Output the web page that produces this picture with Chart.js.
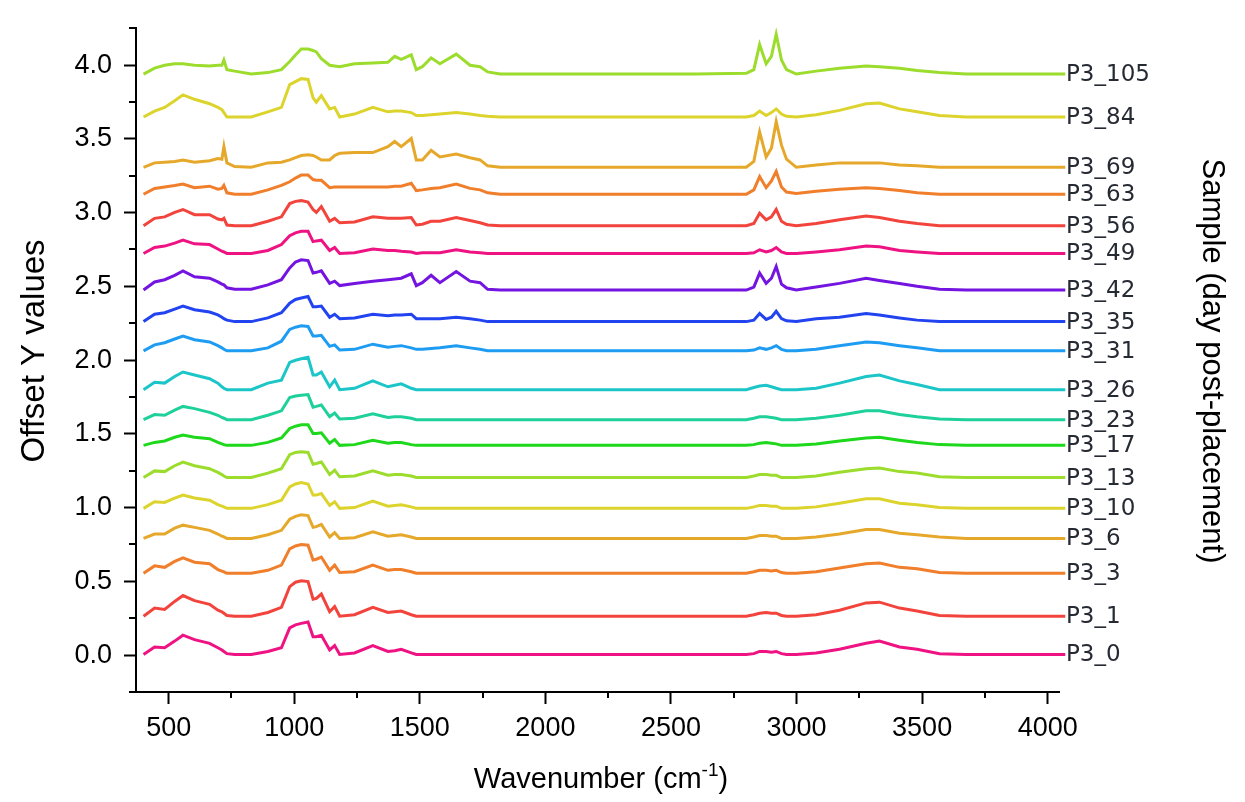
<!DOCTYPE html>
<html>
<head>
<meta charset="utf-8">
<script src="https://cdn.jsdelivr.net/npm/chart.js@4.4.0/dist/chart.umd.min.js"></script>
<style>
  html, body { margin: 0; padding: 0; background: #fff; }
  #wrap { width: 1245px; height: 802px; position: relative; }
</style>
</head>
<body>
<div id="wrap"><canvas id="chart"></canvas></div>
<script>
// wavenumber grid shared by all spectra (cm-1)
const wavenumbers = [
  400, 444, 484, 524, 557, 603, 663, 696, 712, 720, 732, 763, 829, 895, 949, 982, 1005, 1028, 1055, 1075,
  1088, 1108, 1141, 1161, 1181, 1240, 1313, 1373, 1400, 1426, 1466, 1486, 1510, 1545, 1580, 1645, 1700, 1740, 1770, 1820,
  2600, 2800, 2830, 2853, 2879, 2900, 2919, 2940, 2960, 2999, 3078, 3171, 3277, 3330, 3410, 3480, 3569, 3675, 4070
];

// sample names, bottom to top
const samples = ['P3_0', 'P3_1', 'P3_3', 'P3_6', 'P3_10', 'P3_13', 'P3_17', 'P3_23', 'P3_26',
                 'P3_31', 'P3_35', 'P3_42', 'P3_49', 'P3_56', 'P3_63', 'P3_69', 'P3_84', 'P3_105'];

// vertical offset of each trace
const offsets = [0.005, 0.264, 0.555, 0.791, 0.995, 1.204, 1.422, 1.596, 1.799,
                 2.063, 2.261, 2.475, 2.723, 2.911, 3.124, 3.307, 3.648, 3.939];

const colors = ['#ee1282', '#f2443c', '#f07e2a', '#e6a82a', '#dcd42c', '#9cdc2c', '#1ed81c', '#1ed09a', '#1cc6c8',
                '#1e9cf2', '#2244f0', '#7414e0', '#ee1282', '#f2443c', '#f07e2a', '#e6a82a', '#dcd42c', '#9cdc2c'];

// absorbance above each trace's own baseline
const p3_0 = [0, 0.05, 0.045, 0.09, 0.13, 0.1, 0.075, 0.045, 0.03, 0.02, 0.005, 0, 0, 0.02, 0.045, 0.18, 0.2, 0.21, 0.22, 0.12,
  0.12, 0.13, 0.03, 0.06, 0, 0.01, 0.06, 0.02, 0.025, 0.035, 0.01, 0, 0, 0, 0, 0, 0, 0, 0, 0,
  0, 0, 0.005, 0.02, 0.02, 0.015, 0.02, 0.005, 0, 0, 0.01, 0.035, 0.075, 0.09, 0.05, 0.035, 0.005, 0, 0];
const p3_1 = [0, 0.055, 0.045, 0.1, 0.14, 0.105, 0.08, 0.04, 0.03, 0.02, 0.005, 0, 0, 0.025, 0.06, 0.2, 0.23, 0.24, 0.235, 0.115,
  0.12, 0.15, 0.03, 0.065, 0, 0.01, 0.06, 0.025, 0.03, 0.035, 0.01, 0, 0, 0, 0, 0, 0, 0, 0, 0,
  0, 0, 0.01, 0.02, 0.025, 0.02, 0.02, 0.005, 0, 0, 0.01, 0.04, 0.09, 0.095, 0.055, 0.035, 0.005, 0, 0];
const p3_3 = [0, 0.05, 0.04, 0.08, 0.105, 0.075, 0.065, 0.025, 0.015, 0.01, 0, 0, 0, 0.02, 0.055, 0.165, 0.185, 0.195, 0.19, 0.09,
  0.095, 0.11, 0.02, 0.055, 0.005, 0.01, 0.055, 0.02, 0.025, 0.025, 0.01, 0, 0, 0, 0, 0, 0, 0, 0, 0,
  0, 0, 0.01, 0.02, 0.02, 0.015, 0.02, 0.005, 0, 0, 0.01, 0.035, 0.065, 0.07, 0.04, 0.03, 0.005, 0, 0];
const p3_6 = [0, 0.03, 0.03, 0.07, 0.09, 0.075, 0.055, 0.03, 0.015, 0.01, 0, 0, 0, 0.025, 0.055, 0.13, 0.15, 0.16, 0.155, 0.075,
  0.08, 0.095, 0.01, 0.04, 0, 0.005, 0.045, 0.015, 0.02, 0.025, 0.01, 0, 0, 0, 0, 0, 0, 0, 0, 0,
  0, 0, 0.01, 0.02, 0.02, 0.015, 0.015, 0, 0, 0, 0.01, 0.03, 0.06, 0.06, 0.035, 0.025, 0.01, 0, 0];
const p3_10 = [0, 0.045, 0.04, 0.07, 0.09, 0.07, 0.055, 0.025, 0.015, 0.01, 0, 0, 0, 0.025, 0.055, 0.145, 0.165, 0.175, 0.165, 0.09,
  0.09, 0.1, 0.02, 0.045, 0, 0.005, 0.05, 0.015, 0.02, 0.025, 0.01, 0, 0, 0, 0, 0, 0, 0, 0, 0,
  0, 0, 0.01, 0.02, 0.02, 0.015, 0.015, 0, 0, 0, 0.01, 0.035, 0.065, 0.065, 0.035, 0.025, 0.005, 0, 0];
const p3_13 = [0, 0.045, 0.04, 0.08, 0.105, 0.08, 0.06, 0.035, 0.02, 0.01, 0, 0, 0, 0.03, 0.06, 0.155, 0.17, 0.175, 0.17, 0.09,
  0.095, 0.105, 0.02, 0.05, 0.005, 0.01, 0.045, 0.015, 0.02, 0.02, 0.01, 0, 0, 0, 0, 0, 0, 0, 0, 0,
  0, 0, 0.01, 0.02, 0.02, 0.015, 0.015, 0, 0, 0, 0.01, 0.035, 0.06, 0.065, 0.04, 0.03, 0.005, 0, 0];
const p3_17 = [0, 0.02, 0.03, 0.055, 0.07, 0.055, 0.045, 0.02, 0.01, 0.005, 0, 0, 0, 0.02, 0.05, 0.115, 0.13, 0.14, 0.14, 0.08,
  0.08, 0.085, 0.015, 0.04, 0, 0.005, 0.035, 0.015, 0.02, 0.02, 0.005, 0, 0, 0, 0, 0, 0, 0, 0, 0,
  0, 0, 0.005, 0.015, 0.02, 0.015, 0.01, 0, 0, 0, 0.01, 0.03, 0.05, 0.055, 0.035, 0.02, 0.005, 0, 0];
const p3_23 = [0, 0.035, 0.03, 0.065, 0.09, 0.075, 0.05, 0.03, 0.015, 0.01, 0, 0, 0, 0.03, 0.06, 0.15, 0.16, 0.165, 0.17, 0.085,
  0.09, 0.1, 0.02, 0.045, 0.005, 0.01, 0.04, 0.015, 0.02, 0.02, 0.01, 0, 0, 0, 0, 0, 0, 0, 0, 0,
  0, 0, 0.01, 0.02, 0.02, 0.015, 0.01, 0, 0, 0, 0.01, 0.03, 0.06, 0.06, 0.035, 0.02, 0.005, 0, 0];
const p3_26 = [0, 0.05, 0.045, 0.09, 0.12, 0.1, 0.075, 0.045, 0.02, 0.01, 0, 0, 0, 0.045, 0.065, 0.185, 0.2, 0.21, 0.22, 0.1,
  0.1, 0.12, 0.02, 0.065, 0, 0.01, 0.06, 0.02, 0.03, 0.04, 0.01, 0, 0, 0, 0, 0, 0, 0, 0, 0,
  0, 0, 0.015, 0.025, 0.03, 0.02, 0.01, 0, 0, 0, 0.01, 0.045, 0.09, 0.1, 0.06, 0.035, 0, 0, 0];
const p3_31 = [0, 0.04, 0.055, 0.08, 0.1, 0.075, 0.06, 0.035, 0.02, 0.01, 0, 0, 0, 0.02, 0.065, 0.145, 0.16, 0.17, 0.165, 0.1,
  0.1, 0.105, 0.03, 0.04, 0.005, 0.01, 0.045, 0.025, 0.03, 0.035, 0.02, 0.01, 0.01, 0.015, 0.02, 0.035, 0.02, 0.01, 0, 0,
  0, 0, 0.005, 0.02, 0.01, 0.02, 0.035, 0.01, 0, 0, 0.01, 0.035, 0.06, 0.055, 0.035, 0.02, 0, 0, 0];
const p3_35 = [0, 0.05, 0.06, 0.085, 0.105, 0.08, 0.065, 0.045, 0.03, 0.02, 0.01, 0, 0, 0.025, 0.06, 0.125, 0.15, 0.16, 0.17, 0.1,
  0.1, 0.105, 0.03, 0.05, 0.02, 0.025, 0.05, 0.04, 0.045, 0.045, 0.05, 0.02, 0.02, 0.02, 0.02, 0.03, 0.02, 0.01, 0, 0,
  0, 0, 0.01, 0.055, 0.015, 0.03, 0.07, 0.02, 0.005, 0, 0.02, 0.03, 0.055, 0.045, 0.025, 0.01, 0, 0, 0];
const p3_42 = [0, 0.055, 0.07, 0.1, 0.13, 0.09, 0.08, 0.055, 0.04, 0.035, 0.015, 0.005, 0.005, 0.035, 0.07, 0.15, 0.19, 0.205, 0.2, 0.115,
  0.12, 0.13, 0.045, 0.06, 0.03, 0.045, 0.06, 0.07, 0.075, 0.08, 0.11, 0.03, 0.05, 0.1, 0.05, 0.125, 0.06, 0.05, 0.005, 0,
  0, 0, 0.02, 0.115, 0.045, 0.08, 0.16, 0.04, 0.015, 0, 0.02, 0.045, 0.08, 0.065, 0.045, 0.025, 0.005, 0, 0];
const p3_49 = [0, 0.04, 0.05, 0.07, 0.09, 0.065, 0.06, 0.03, 0.015, 0.01, 0, 0, 0, 0.02, 0.06, 0.12, 0.14, 0.15, 0.15, 0.08,
  0.085, 0.09, 0.02, 0.04, 0, 0.005, 0.03, 0.02, 0.02, 0.015, 0.01, 0, 0.005, 0.005, 0.005, 0.025, 0.01, 0.005, 0, 0,
  0, 0, 0.005, 0.025, 0.01, 0.02, 0.04, 0.01, 0, 0, 0.01, 0.025, 0.05, 0.045, 0.02, 0.01, 0, 0, 0];
const p3_56 = [0, 0.05, 0.06, 0.09, 0.11, 0.075, 0.075, 0.045, 0.04, 0.05, 0.005, 0, 0, 0.03, 0.06, 0.15, 0.165, 0.17, 0.16, 0.11,
  0.09, 0.13, 0.03, 0.05, 0.02, 0.025, 0.06, 0.05, 0.05, 0.05, 0.055, 0.005, 0.01, 0.03, 0.03, 0.055, 0.035, 0.02, 0.005, 0,
  0, 0, 0.015, 0.085, 0.04, 0.06, 0.11, 0.03, 0.01, 0, 0.015, 0.04, 0.065, 0.055, 0.03, 0.015, 0, 0, 0];
const p3_63 = [0, 0.04, 0.05, 0.06, 0.07, 0.045, 0.055, 0.035, 0.04, 0.06, 0.01, 0, 0, 0.03, 0.06, 0.085, 0.11, 0.13, 0.13, 0.1,
  0.095, 0.095, 0.045, 0.05, 0.05, 0.05, 0.05, 0.05, 0.055, 0.055, 0.075, 0.025, 0.03, 0.04, 0.045, 0.07, 0.04, 0.03, 0.01, 0,
  0, 0, 0.03, 0.12, 0.045, 0.09, 0.155, 0.05, 0.015, 0.005, 0.02, 0.035, 0.045, 0.04, 0.025, 0.01, 0, 0, 0];
const p3_69 = [0, 0.03, 0.035, 0.04, 0.05, 0.035, 0.045, 0.06, 0.055, 0.14, 0.03, 0.005, 0, 0.03, 0.035, 0.05, 0.065, 0.08, 0.085, 0.08,
  0.07, 0.05, 0.05, 0.08, 0.095, 0.1, 0.1, 0.14, 0.175, 0.14, 0.195, 0.05, 0.05, 0.115, 0.07, 0.09, 0.065, 0.05, 0.01, 0,
  0, 0, 0.04, 0.24, 0.07, 0.13, 0.31, 0.15, 0.055, 0, 0.015, 0.03, 0.03, 0.03, 0.015, 0.01, 0, 0, 0];
const p3_84 = [0, 0.04, 0.065, 0.11, 0.15, 0.12, 0.09, 0.065, 0.05, 0.03, 0, 0, 0, 0.035, 0.065, 0.22, 0.24, 0.26, 0.255, 0.13,
  0.1, 0.145, 0.055, 0.065, 0, 0.02, 0.065, 0.035, 0.04, 0.04, 0.03, 0.01, 0.01, 0.015, 0.02, 0.03, 0.02, 0.01, 0.005, 0,
  0, 0, 0.01, 0.04, 0.01, 0.03, 0.055, 0.02, 0.005, 0, 0.015, 0.045, 0.09, 0.095, 0.055, 0.035, 0.01, 0, 0];
const p3_105 = [0, 0.04, 0.06, 0.07, 0.07, 0.06, 0.055, 0.06, 0.06, 0.095, 0.03, 0.02, 0, 0.01, 0.03, 0.085, 0.13, 0.17, 0.17, 0.16,
  0.15, 0.105, 0.06, 0.055, 0.05, 0.07, 0.075, 0.08, 0.12, 0.1, 0.13, 0.03, 0.05, 0.11, 0.07, 0.135, 0.06, 0.05, 0.015, 0,
  0, 0.005, 0.03, 0.2, 0.07, 0.12, 0.27, 0.095, 0.03, 0, 0.02, 0.04, 0.055, 0.05, 0.04, 0.025, 0.01, 0, 0];

const spectra = [p3_0, p3_1, p3_3, p3_6, p3_10, p3_13, p3_17, p3_23, p3_26,
                 p3_31, p3_35, p3_42, p3_49, p3_56, p3_63, p3_69, p3_84, p3_105];

// tick values
const xMajor = [500, 1000, 1500, 2000, 2500, 3000, 3500, 4000];
const xMinor = [750, 1250, 1750, 2250, 2750, 3250, 3750];
const yMajor = [0, 0.5, 1.0, 1.5, 2.0, 2.5, 3.0, 3.5, 4.0];
const yMinor = [-0.25, 0.25, 0.75, 1.25, 1.75, 2.25, 2.75, 3.25, 3.75, 4.25];

const tickFont = { family: '"Liberation Sans", Arial, sans-serif', size: 27 };

const datasets = samples.map((name, i) => ({
    label: name,
    data: wavenumbers.map((w, j) => ({ x: w, y: offsets[i] + spectra[i][j] })),
    borderColor: colors[i],
    borderWidth: 3,
    pointRadius: 0,
    tension: 0,
    clip: false
}));

// extra drawing: minor ticks, sample names, axis titles
const decorations = {
    id: 'decorations',
    afterDraw(chart) {
        const ctx = chart.ctx;
        const x = chart.scales.x, y = chart.scales.y;
        ctx.save();
        ctx.strokeStyle = '#000';
        ctx.lineWidth = 2;
        ctx.beginPath();
        xMinor.forEach(v => {
            const px = Math.round(x.getPixelForValue(v));
            ctx.moveTo(px, y.bottom);
            ctx.lineTo(px, y.bottom + 6);
        });
        yMinor.forEach(v => {
            const py = Math.round(y.getPixelForValue(v));
            ctx.moveTo(x.left, py);
            ctx.lineTo(x.left - 7, py);
        });
        ctx.stroke();

        // sample labels at the end of each trace
        ctx.fillStyle = '#262a33';
        ctx.font = '23px "DejaVu Sans", sans-serif';
        ctx.textAlign = 'left';
        ctx.textBaseline = 'alphabetic';
        samples.forEach((name, i) => {
            const py = y.getPixelForValue(offsets[i]);
            ctx.fillText(name, x.right + 7, py + 7);
        });

        // axis titles
        ctx.fillStyle = '#000';
        ctx.font = '33px "Liberation Sans", Arial, sans-serif';
        ctx.textAlign = 'center';
        ctx.save();
        ctx.translate(44, 351);
        ctx.rotate(-Math.PI / 2);
        ctx.fillText('Offset Y values', 0, 0);
        ctx.restore();

        ctx.save();
        ctx.font = '31px "Liberation Sans", Arial, sans-serif';
        ctx.translate(1203, 361);
        ctx.rotate(Math.PI / 2);
        ctx.fillText('Sample (day post-placement)', 0, 0);
        ctx.restore();

        // x title with superscript
        const big = '29px "Liberation Sans", Arial, sans-serif';
        const small = '19px "Liberation Sans", Arial, sans-serif';
        ctx.textAlign = 'left';
        ctx.font = big;
        const t1 = 'Wavenumber (cm', t3 = ')';
        const w1 = ctx.measureText(t1).width, w3 = ctx.measureText(t3).width;
        ctx.font = small;
        const w2 = ctx.measureText('-1').width;
        let cx = 601 - (w1 + w2 + w3) / 2;
        const base = 788;
        ctx.font = big;
        ctx.fillText(t1, cx, base);
        ctx.font = small;
        ctx.fillText('-1', cx + w1, base - 12);
        ctx.font = big;
        ctx.fillText(t3, cx + w1 + w2, base);
        ctx.restore();
    }
};

new Chart(document.getElementById('chart'), {
    type: 'line',
    data: { datasets: datasets },
    options: {
        responsive: true,
        maintainAspectRatio: false,
        animation: false,
        devicePixelRatio: 1,
        layout: { padding: { top: 11, right: 186, bottom: 0, left: 0 } },
        plugins: { legend: { display: false }, tooltip: { enabled: false } },
        scales: {
            x: {
                type: 'linear',
                min: 370,
                max: 4045,
                afterFit: s => { s.height = 110; },
                afterBuildTicks: s => { s.ticks = xMajor.map(v => ({ value: v })); },
                ticks: { font: tickFont, color: '#000', padding: 8, maxRotation: 0, callback: v => String(v) },
                grid: { drawOnChartArea: false, drawTicks: true, tickLength: 12, tickWidth: 2, tickColor: '#000' },
                border: { display: true, color: '#000', width: 2 }
            },
            y: {
                min: -0.25,
                max: 4.25,
                afterFit: s => { s.width = 136; },
                afterBuildTicks: s => { s.ticks = yMajor.map(v => ({ value: v })); },
                ticks: { font: tickFont, color: '#000', padding: 12, callback: v => v.toFixed(1) },
                grid: { drawOnChartArea: false, drawTicks: true, tickLength: 12, tickWidth: 2, tickColor: '#000' },
                border: { display: true, color: '#000', width: 2 }
            }
        }
    },
    plugins: [decorations]
});
</script>
</body>
</html>
